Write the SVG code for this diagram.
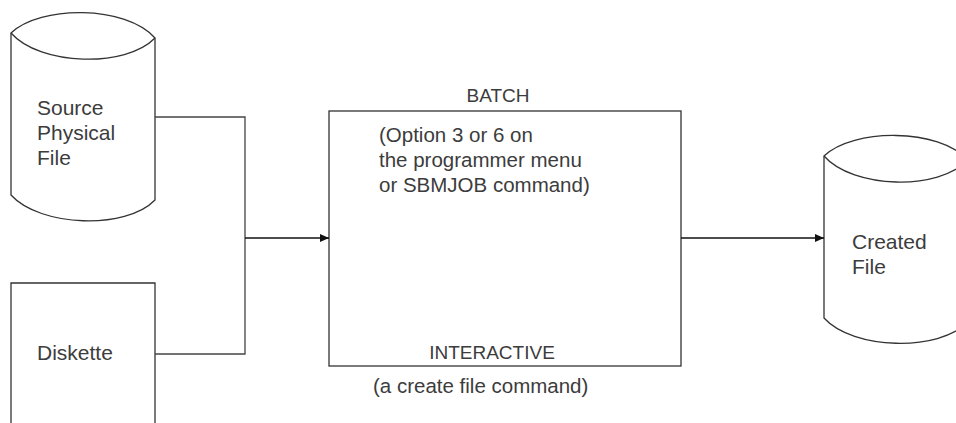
<svg xmlns="http://www.w3.org/2000/svg" width="956" height="423" viewBox="0 0 956 423">
<style>
.shape{fill:#fff;stroke:#333;stroke-width:1.3}
.line{fill:none;stroke:#444;stroke-width:1.3}
.arrow{fill:none;stroke:#111;stroke-width:1.3}
text{font-family:"Liberation Sans",Arial,sans-serif;font-size:20.5px;fill:#3c3c3c}
.cap{font-size:19px}
.lbl{font-size:21px}
</style>
<defs>
<marker id="ah" markerWidth="9" markerHeight="8" refX="9" refY="4" orient="auto" markerUnits="userSpaceOnUse">
<path d="M0,0 L9,4 L0,8 Z" fill="#111"/>
</marker>
</defs>
<rect width="956" height="423" fill="#fff"/>
<g id="source">
<path class="shape" d="M11,33 C40,5 126,5 155,38 V200 C126,230 40,227 11,195 Z"/>
<path class="shape" style="fill:none" d="M11,33 C40,66 126,68 155,38"/>
<text class="lbl" x="37" y="115">Source</text>
<text class="lbl" x="37" y="140">Physical</text>
<text class="lbl" x="37" y="165">File</text>
</g>
<g id="diskette">
<path class="shape" d="M11,430 V283 H155 V430"/>
<text class="lbl" x="37" y="360">Diskette</text>
</g>
<g id="process">
<rect class="shape" x="329" y="111" width="352" height="255"/>
<text class="cap" x="498" y="102" text-anchor="middle">BATCH</text>
<text x="379" y="142">(Option 3 or 6 on</text>
<text x="379" y="167">the programmer menu</text>
<text x="379" y="192">or SBMJOB command)</text>
<text class="cap" x="492" y="359" text-anchor="middle">INTERACTIVE</text>
<text x="373" y="393">(a create file command)</text>
</g>
<g id="created">
<path class="shape" d="M824,156 C853,128 939,128 968,160 V322 C939,352 853,350 824,318 Z"/>
<path class="shape" style="fill:none" d="M824,156 C853,189 939,191 968,160"/>
<text class="lbl" x="852" y="249">Created</text>
<text class="lbl" x="852" y="274">File</text>
</g>
<g id="connectors">
<path class="line" d="M155,117 H245 V354 H155"/>
<path class="arrow" d="M245,238 H329" marker-end="url(#ah)"/>
<path class="arrow" d="M681,238 H824" marker-end="url(#ah)"/>
</g>
</svg>
